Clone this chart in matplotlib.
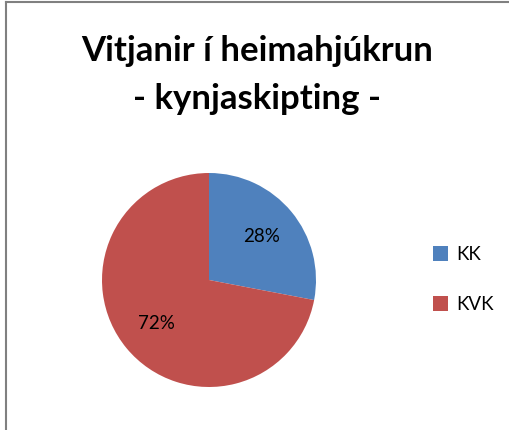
import matplotlib
matplotlib.use('Agg')
import matplotlib.pyplot as plt
from matplotlib.lines import Line2D
from matplotlib.patches import Patch

# gögn
flokkar = ['KK', 'KVK']
hlutfall = [28, 72]
litir = ['#4F81BD', '#C0504D']
titill = 'Vitjanir í heimahjúkrun\n- kynjaskipting -'

plt.rcParams['font.family'] = ['Lato', 'DejaVu Sans']

fig = plt.figure(figsize=(5.1, 4.3), dpi=100)

# rammi (efri og vinstri lína sjást)
fig.add_artist(Line2D([0.011, 1.0], [0.995, 0.995], color='#808080', lw=1.5))
fig.add_artist(Line2D([0.011, 0.011], [0.0, 0.995], color='#808080', lw=1.5))

fig.text(0.504, 0.826, titill, ha='center', va='center', fontsize=25,
         fontweight='bold', linespacing=1.6)

# pie: miðja ~ (209, 280), radíus ~107 px
r = 107
cx, cy = 209, 280
ax = fig.add_axes([(cx - r) / 510, (430 - cy - r) / 430, 2 * r / 510, 2 * r / 430])
wedges, texts, autotexts = ax.pie(hlutfall, colors=litir, startangle=90, counterclock=False,
                                  autopct='%d%%', pctdistance=0.64,
                                  textprops={'fontsize': 13.5})
ax.set_xlim(-1, 1)
ax.set_ylim(-1, 1)
ax.set_aspect('equal')

handles = [Patch(facecolor=c, edgecolor='none') for c in litir]
fig.legend(handles, flokkar, loc='center left', bbox_to_anchor=(0.815, 0.35),
           frameon=False, fontsize=13.5, handlelength=0.8, handleheight=0.8,
           handletextpad=0.45, labelspacing=1.75)

fig.savefig('out.png', dpi=100)
